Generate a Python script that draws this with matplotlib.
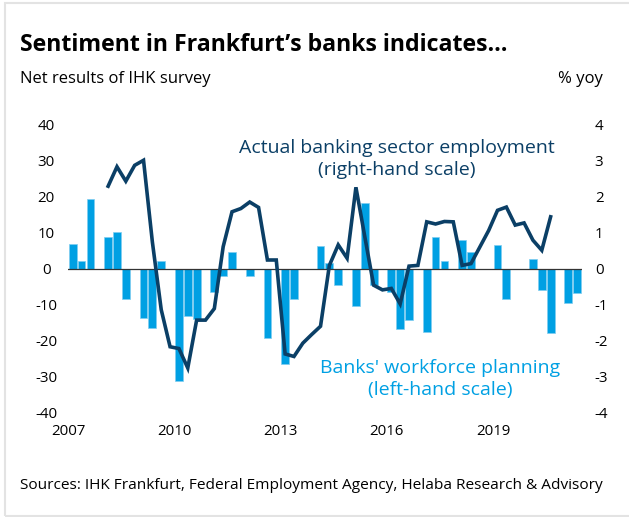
import matplotlib
matplotlib.use("Agg")
import matplotlib.pyplot as plt
import numpy as np
from matplotlib.patches import Rectangle

plt.rcParams['font.family'] = ['Open Sans', 'Noto Sans', 'DejaVu Sans']

# quarterly slots from 2007 Q1; year labels sit on the slot boundary
quarters = np.arange(58)
year_ticks = [-0.5, 11.5, 23.5, 35.5, 47.5]
year_labels = ['2007', '2010', '2013', '2016', '2019']

# IHK survey, net results (left scale)
workforce = [7.0, 2.1, 19.4, 0, 9.0, 10.4, -8.4, 0, -13.5, -16.4,
             2.1, 0, -31.0, -13.0, -14.0, 0, -6.5, -1.9, 4.6, 0,
             -2.0, 0, -19.3, 0, -26.4, -8.4, 0, 0, 6.3, 1.8,
             -4.4, 0, -10.4, 18.4, -4.4, 0, -6.4, -16.8, -14.3, 0,
             -17.4, 8.9, 2.3, 0, 8.0, 4.7, 0, 0, 6.7, -8.2,
             0, 0, 2.9, -5.8, -17.7, 0, -9.5, -6.8]

# banking sector employment, % yoy (right scale)
employment = [None, None, None, None, 2.30, 2.84, 2.44, 2.88, 3.02, 0.75,
              -1.13, -2.16, -2.21, -2.75, -1.42, -1.42, -1.10, 0.62, 1.59, 1.68,
              1.86, 1.71, 0.25, 0.25, -2.36, -2.43, -2.06, -1.82, -1.59, 0.10,
              0.67, 0.30, 2.27, 0.90, -0.45, -0.58, -0.54, -0.97, 0.08, 0.10,
              1.31, 1.25, 1.32, 1.31, 0.10, 0.15, 0.61, 1.07, 1.63, 1.72,
              1.22, 1.28, 0.80, 0.52, 1.45, None, None, None]
employment = np.array(employment, dtype=float)

navy = '#0b3f66'
cyan = '#00a0e3'

fig = plt.figure(figsize=(6.29, 5.17), dpi=100)
W, H = 629, 517
ax = fig.add_axes([68.3 / W, 1 - 413 / H, 513.3 / W, 288 / H])

ax.bar(quarters, workforce, width=0.88, color=cyan, edgecolor='#7fcdf0', linewidth=0.5, zorder=2)
ax.axhline(0, color='#333333', linewidth=0.9, zorder=3)
ax.set_xlim(-0.5, 57.5)
ax.set_ylim(-40, 40)
ticks = np.arange(-40, 41, 10)
ax.set_yticks(ticks, labels=[str(t) for t in ticks])
ax.set_xticks(year_ticks, labels=year_labels)
for lbl in ax.get_yticklabels():
    lbl.set_horizontalalignment('center')
ax.tick_params(axis='y', length=0, pad=16, labelsize=10.8)
ax.tick_params(axis='x', length=0, pad=8, labelsize=10.8)
for s in ax.spines.values():
    s.set_visible(False)

ax2 = ax.twinx()
ax2.plot(quarters, employment, color=navy, linewidth=2.6, solid_joinstyle='miter', zorder=4)
ax2.set_ylim(-4, 4)
rticks = np.arange(-4, 5, 1)
ax2.set_yticks(rticks, labels=[str(t) for t in rticks])
ax2.tick_params(axis='y', length=0, pad=9.5, labelsize=10.8)
for s in ax2.spines.values():
    s.set_visible(False)

ax2.text(36.6, 3.22, 'Actual banking sector employment', color=navy,
         ha='center', va='baseline', fontsize=14)
ax2.text(36.6, 2.61, '(right-hand scale)', color=navy,
         ha='center', va='baseline', fontsize=14)
ax.text(41.5, -28.9, "Banks' workforce planning", color=cyan,
        ha='center', va='baseline', fontsize=14)
ax.text(41.5, -35.0, '(left-hand scale)', color=cyan,
        ha='center', va='baseline', fontsize=14)

fig.text(20 / W, 1 - 51 / H, 'Sentiment in Frankfurt\u2019s banks indicates\u2026',
         fontsize=16.7, fontweight='bold', ha='left', va='baseline')
fig.text(20 / W, 1 - 83 / H, 'Net results of IHK survey', fontsize=12,
         ha='left', va='baseline')
fig.text(603 / W, 1 - 83 / H, '% yoy', fontsize=12, ha='right', va='baseline')
fig.text(20 / W, 1 - 489 / H, 'Sources: IHK Frankfurt, Federal Employment Agency, '
         'Helaba Research & Advisory', fontsize=11.1, ha='left', va='baseline')

fig.patches.append(Rectangle((4.5 / W, 1 - 515.5 / H), 700 / W, 513 / H,
                             transform=fig.transFigure, fill=False,
                             edgecolor='#e3e3e3', linewidth=1.5))

fig.savefig('out.png', dpi=100)
